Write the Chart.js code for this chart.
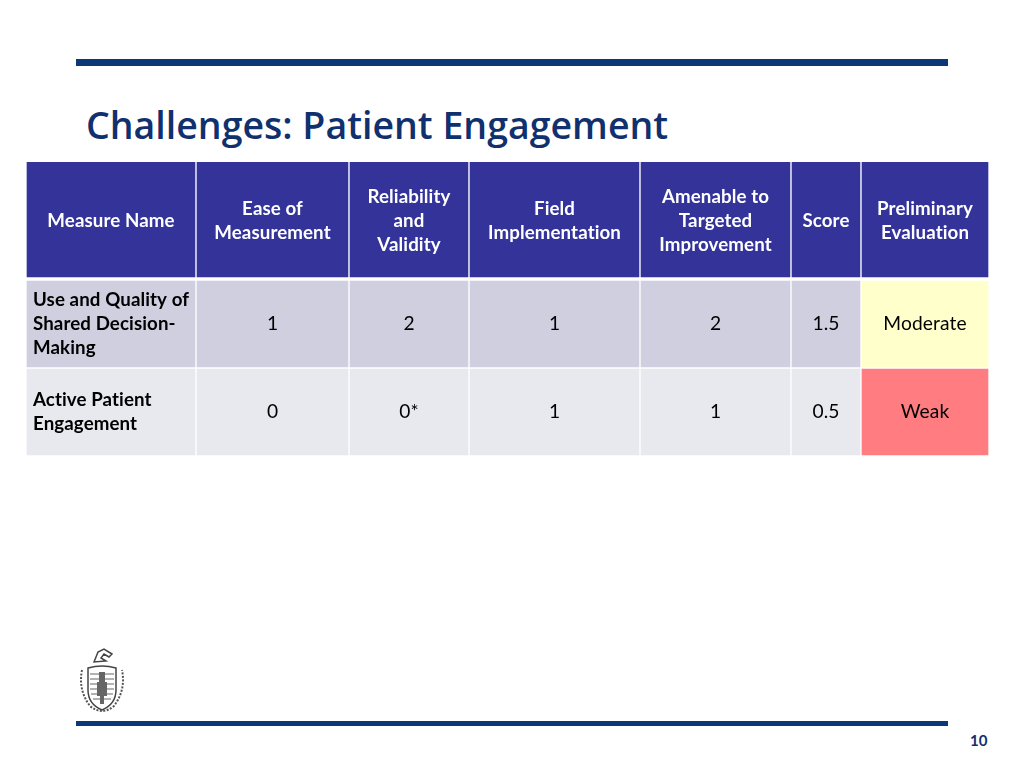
<!DOCTYPE html>
<html>
<head>
<meta charset="utf-8">
<script src="https://cdn.jsdelivr.net/npm/chart.js@4.4.1/dist/chart.umd.min.js"></script>
<style>
  html, body { margin: 0; padding: 0; background: #fff; }
  body { width: 1024px; height: 768px; position: relative; overflow: hidden; font-family: Lato, sans-serif; }
  .rule { position: absolute; left: 76px; width: 872px; background: #0D3878; }
  #title { position: absolute; left: 86px; top: 99px; font-family: "Open Sans", sans-serif; font-weight: 600; font-size: 37.5px; color: #10306E; white-space: nowrap; line-height: 52px; }
  #table-wrap { position: absolute; left: 26px; top: 162px; width: 963px; height: 294px; }
  #page { position: absolute; left: 970px; top: 731px; font-size: 15px; font-weight: bold; color: #10306E; }
  #seal { position: absolute; left: 74px; top: 646px; }
</style>
</head>
<body>
<div class="rule" style="top:59px;height:7px"></div>
<div id="title">Challenges: Patient Engagement</div>
<div id="table-wrap"><canvas id="grid" width="963" height="294"></canvas></div>
<svg id="seal" width="56" height="68" viewBox="0 0 56 68">
  <path d="M20 16 L24 6 L30 3 L38 8 L35 11 L30 8 L27 12 L32 15 Z" fill="none" stroke="#444" stroke-width="1.5"/>
  <path d="M14 22 Q28 18 42 22 L42 44 Q42 58 28 64 Q14 58 14 44 Z" fill="#fff" stroke="#444" stroke-width="1.5"/>
  <path d="M16 28 H40 M16 33 H40 M16 38 H40 M16 43 H40 M17 48 H39 M19 53 H37" stroke="#999" stroke-width="1.6"/>
  <path d="M25 26 h6 v10 h2 v14 h-3 v8 h-4 v-8 h-3 v-14 h2 Z" fill="#666"/>
  <path d="M8 24 Q4 44 16 60 Q28 70 40 60 Q52 44 48 24" fill="none" stroke="#555" stroke-width="2" stroke-dasharray="2 1.5"/>
</svg>
<div class="rule" style="top:721px;height:5px"></div>
<div id="page">10</div>
<script>
// table text
const headers = [
  ['Measure Name'],
  ['Ease of', 'Measurement'],
  ['Reliability', 'and', 'Validity'],
  ['Field', 'Implementation'],
  ['Amenable to', 'Targeted', 'Improvement'],
  ['Score'],
  ['Preliminary', 'Evaluation'],
];
const measures = [
  ['Use and Quality of', 'Shared Decision-', 'Making'],
  ['Active Patient', 'Engagement'],
];
const ease = ['1', '0'];
const reliability = ['2', '0*'];
const field = ['1', '1'];
const amenable = ['2', '1'];
const scores = ['1.5', '0.5'];
const evaluations = ['Moderate', 'Weak'];

// layout (px units on the hidden scales)
const colWidths = [170, 153, 120, 171, 151, 70, 128];
const rowHeights = [117, 89, 88];
const headerColor = '#333399';
const rowColors = ['#CFCFDF', '#E8E8EF'];
const evalColors = { Moderate: '#FFFFCC', Weak: '#FF7C80' };
const FONT = 'Lato, sans-serif';

const colEdges = [0];
colWidths.forEach(w => colEdges.push(colEdges[colEdges.length - 1] + w));
const rowTops = [0];
rowHeights.forEach(h => rowTops.push(rowTops[rowTops.length - 1] + h));

const bodyCols = [ease, reliability, field, amenable, scores];
const rows = [headers];
measures.forEach((m, i) => {
  rows.push([m, ...bodyCols.map(c => [c[i]]), [evaluations[i]]]);
});

const datasets = rows.map((cells, r) => ({
  label: r === 0 ? 'header' : 'row ' + r,
  data: cells.map((_, c) => ({ y: rowTops[r] + rowHeights[r] / 2, x: [colEdges[c], colEdges[c + 1]] })),
  backgroundColor: cells.map((_, c) => {
    if (r === 0) return headerColor;
    if (c === cells.length - 1) return evalColors[evaluations[r - 1]];
    return rowColors[r - 1];
  }),
  borderColor: '#ffffff',
  borderWidth: r === 0 ? { top: 0, left: 1, right: 1, bottom: 2 } : r === 1 ? { top: 2, left: 1, right: 1, bottom: 1 } : 1,
  borderSkipped: false,
  barThickness: rowHeights[r],
  stack: 'table',
  cells,
}));

const cellText = {
  id: 'cellText',
  afterDatasetsDraw(chart) {
    const ctx = chart.ctx;
    ctx.save();
    ctx.textBaseline = 'middle';
    ctx.letterSpacing = '0.1px'; // no "ti"/"fi" ligatures
    chart.data.datasets.forEach((ds, r) => {
      chart.getDatasetMeta(r).data.forEach((bar, c) => {
        const { x, y, base } = bar.getProps(['x', 'y', 'base'], true);
        const lines = ds.cells[c];
        const left = Math.min(x, base);
        const cx = (x + base) / 2;
        const bold = r === 0 || c === 0;
        ctx.font = bold ? 'bold 18.7px ' + FONT : '19.2px ' + FONT;
        ctx.fillStyle = r === 0 ? '#ffffff' : '#000000';
        ctx.textAlign = (r > 0 && c === 0) ? 'left' : 'center';
        const tx = (r > 0 && c === 0) ? left + 7 : cx;
        const y0 = y - (lines.length - 1) * 12;
        lines.forEach((t, i) => ctx.fillText(t, tx, y0 + i * 24));
      });
    });
    ctx.restore();
  },
};

new Chart(document.getElementById('grid'), {
  type: 'bar',
  data: { datasets },
  options: {
    indexAxis: 'y',
    responsive: false,
    animation: false,
    events: [],
    layout: { padding: 0 },
    plugins: { legend: { display: false }, tooltip: { enabled: false } },
    scales: {
      x: { type: 'linear', min: 0, max: colEdges[colEdges.length - 1], stacked: false, offset: false, display: false },
      y: { type: 'linear', min: 0, max: rowTops[rowTops.length - 1], reverse: true, offset: false, display: false },
    },
  },
  plugins: [cellText],
});
</script>
</body>
</html>
